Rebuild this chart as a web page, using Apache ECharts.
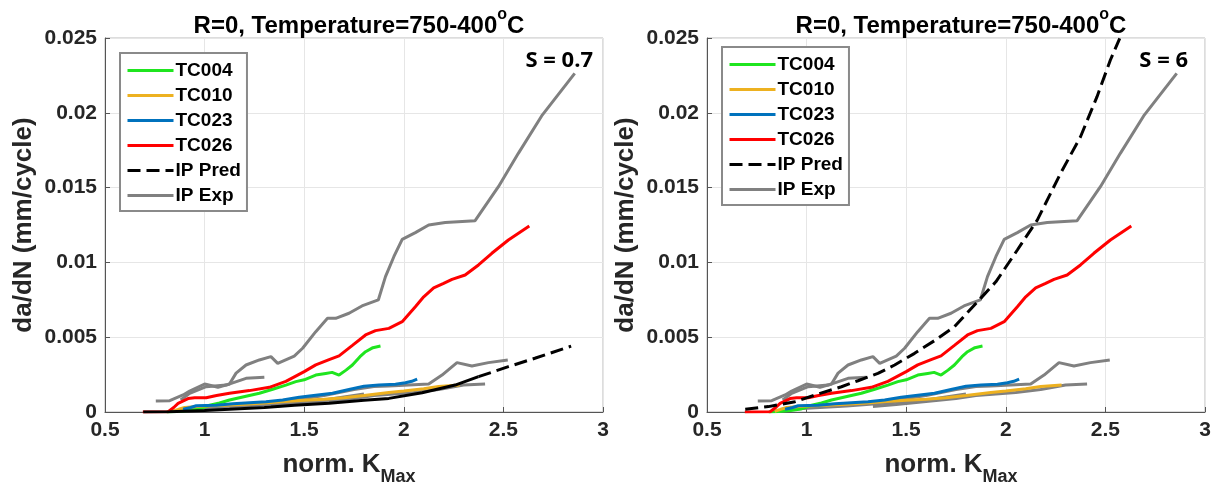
<!DOCTYPE html>
<html>
<head>
<meta charset="utf-8">
<script src="https://cdn.jsdelivr.net/npm/echarts@6/dist/echarts.min.js"></script>
<style>
html, body { margin: 0; padding: 0; background: #fff; }
#chart { width: 1220px; height: 490px; }
</style>
</head>
<body>
<div id="chart"></div>
<script>
// values: [norm. Kmax, da/dN (mm/cycle)]
const xTicks = [0.5, 1, 1.5, 2, 2.5, 3];
const yTicks = [0, 0.005, 0.01, 0.015, 0.02, 0.025];
const legendNames = ['TC004', 'TC010', 'TC023', 'TC026', 'IP Pred', 'IP Exp'];
const panelNotes = ['S = 0.7', 'S = 6'];

const tc004 = [[0.81, 0], [0.86, 0.00003], [0.92, 0.0001], [0.97, 0.0002], [1.025, 0.00045], [1.075, 0.0006],
  [1.125, 0.0008], [1.208, 0.00105], [1.275, 0.00125], [1.342, 0.00152], [1.408, 0.0018], [1.458, 0.00203],
  [1.5, 0.00215], [1.558, 0.00247], [1.608, 0.00258], [1.64, 0.00265], [1.675, 0.00247], [1.71, 0.0028],
  [1.742, 0.00314], [1.78, 0.0037], [1.808, 0.00403], [1.845, 0.0043], [1.883, 0.00441]];

const tc010 = [[0.84, 0.00005], [0.87, 0.00018], [0.9, 0.0003], [1.0, 0.0004], [1.1, 0.00045], [1.2, 0.00052],
  [1.3, 0.0006], [1.4, 0.0007], [1.5, 0.00078], [1.6, 0.00085], [1.7, 0.00095], [1.8, 0.0011],
  [1.925, 0.0013], [2.0, 0.0014], [2.1, 0.00155], [2.175, 0.0017], [2.28, 0.0018]];

const tc023 = [[0.892, 0.00018], [0.93, 0.0003], [0.958, 0.00042], [1.058, 0.00045], [1.142, 0.00055],
  [1.225, 0.00062], [1.308, 0.00069], [1.392, 0.0008], [1.475, 0.00098], [1.558, 0.00112], [1.642, 0.00125],
  [1.725, 0.0015], [1.8, 0.00172], [1.875, 0.0018], [1.958, 0.00185], [2.008, 0.00195], [2.04, 0.00205],
  [2.067, 0.0022]];

const tc026 = [[0.69, 0], [0.817, 0.00002], [0.845, 0.0003], [0.867, 0.00058], [0.917, 0.0009], [0.95, 0.00095],
  [1.008, 0.00095], [1.06, 0.0011], [1.125, 0.00125], [1.225, 0.00143], [1.325, 0.00165], [1.408, 0.00205],
  [1.5, 0.0027], [1.558, 0.00315], [1.625, 0.0035], [1.675, 0.00375], [1.742, 0.00445], [1.808, 0.00515],
  [1.858, 0.00544], [1.925, 0.00559], [1.992, 0.00604], [2.058, 0.00704], [2.1, 0.0077], [2.15, 0.0083],
  [2.2, 0.0086], [2.242, 0.00887], [2.308, 0.00916], [2.375, 0.00983], [2.442, 0.01061], [2.525, 0.0115],
  [2.63, 0.01243]];

const ipExp1 = [[0.755, 0.00074], [0.825, 0.00076], [0.892, 0.00114], [0.925, 0.0014], [1.0, 0.00187],
  [1.067, 0.00165], [1.125, 0.00187], [1.158, 0.0026], [1.208, 0.00314], [1.275, 0.00348], [1.333, 0.0037],
  [1.367, 0.00325], [1.45, 0.00374], [1.492, 0.00426], [1.558, 0.00537], [1.617, 0.00626], [1.658, 0.00626],
  [1.725, 0.0066], [1.79, 0.00709], [1.872, 0.00749], [1.908, 0.00905], [1.95, 0.01038], [1.992, 0.01154],
  [2.058, 0.01199], [2.125, 0.0125], [2.208, 0.01266], [2.358, 0.01279], [2.475, 0.01506], [2.575, 0.01729],
  [2.692, 0.01979], [2.858, 0.02264]];
const ipExp2 = [[0.88, 0.0008], [0.925, 0.00125], [1.008, 0.00169], [1.108, 0.0018], [1.208, 0.00225], [1.3, 0.00232]];
const ipExp3 = [[0.9, 0.0002], [1.0, 0.0003], [1.2, 0.00045], [1.4, 0.0007], [1.6, 0.0011], [1.75, 0.0015],
  [1.85, 0.0017], [1.925, 0.00174], [2.125, 0.00187], [2.192, 0.00247], [2.267, 0.0033], [2.342, 0.00307],
  [2.425, 0.0033], [2.522, 0.00348]];
const ipExp4 = [[1.333, 0.00036], [1.45, 0.0005], [1.6, 0.0007], [1.75, 0.0009], [1.85, 0.0011], [1.95, 0.0012],
  [2.05, 0.0013], [2.175, 0.0015], [2.3, 0.0018], [2.408, 0.00187]];
const ipExp5 = [[0.85, 0.0001], [1.0, 0.00025], [1.2, 0.0004], [1.4, 0.0006], [1.6, 0.0008], [1.8, 0.0012]];

// S = 0.7 prediction: the dense part looks solid in the figure, the tail is dashed
const ipPredS07Low = [[0.692, 0], [0.825, 0.00002], [1.0, 0.0001], [1.125, 0.00018], [1.3, 0.0003], [1.45, 0.00045],
  [1.625, 0.00058], [1.8, 0.00078], [1.925, 0.00091], [2.092, 0.00129], [2.258, 0.0018], [2.375, 0.00236]];
const ipPredS07Tail = [[2.375, 0.00236], [2.525, 0.00303], [2.658, 0.00359], [2.808, 0.00426], [2.84, 0.0044]];
const ipPredS6 = [[0.692, 0.00018], [0.808, 0.00036], [0.942, 0.00069], [1.058, 0.0012], [1.175, 0.00169],
  [1.258, 0.00209], [1.358, 0.00258], [1.442, 0.00314], [1.542, 0.00392], [1.642, 0.00477], [1.742, 0.0057],
  [1.858, 0.00737], [1.95, 0.0087], [2.058, 0.01083], [2.158, 0.01283], [2.275, 0.01595], [2.375, 0.0184],
  [2.458, 0.02108], [2.525, 0.02353], [2.572, 0.02498]];

const FONT = 'Liberation Sans';
const colors = { TC004: '#1fe51f', TC010: '#edb120', TC023: '#0072bd', TC026: '#ff0000', pred: '#000000', exp: '#808080' };

function line(name, data, color, idx, dashed) {
  return {
    name: name,
    type: 'line',
    data: data,
    xAxisIndex: idx,
    yAxisIndex: idx,
    symbol: 'none',
    silent: true,
    lineStyle: { color: color, width: 3, type: dashed ? [13, 6] : 'solid' },
    itemStyle: { color: color }
  };
}

function panelSeries(idx, predParts) {
  const grays = [ipExp1, ipExp2, ipExp3, ipExp4, ipExp5].map(d => line('IP Exp', d, colors.exp, idx));
  const preds = predParts.map(p => line('IP Pred', p.data, colors.pred, idx, p.dashed));
  return grays.concat([
    line('TC004', tc004, colors.TC004, idx),
    line('TC010', tc010, colors.TC010, idx),
    line('TC023', tc023, colors.TC023, idx),
    line('TC026', tc026, colors.TC026, idx)
  ], preds);
}

function xAxis(idx) {
  return {
    type: 'value', gridIndex: idx,
    min: xTicks[0], max: xTicks[xTicks.length - 1], interval: xTicks[1] - xTicks[0],
    name: 'norm. K{sub|Max}', nameLocation: 'middle', nameGap: 32,
    nameTextStyle: {
      fontFamily: FONT, fontWeight: 'bold', fontSize: 26, color: '#262626', padding: [0, 10, 0, 0],
      rich: { sub: { fontFamily: FONT, fontWeight: 'bold', fontSize: 18, color: '#262626', verticalAlign: 'bottom', lineHeight: 42 } }
    },
    axisLine: { lineStyle: { color: '#555', width: 1 } },
    axisTick: { inside: true, length: 5, lineStyle: { color: '#555' } },
    axisLabel: { fontFamily: FONT, fontWeight: 'bold', fontSize: 21, color: '#262626', margin: 8 },
    splitLine: { lineStyle: { color: '#e6e6e6', width: 1 } }
  };
}

function yAxis(idx) {
  return {
    type: 'value', gridIndex: idx,
    min: yTicks[0], max: yTicks[yTicks.length - 1], interval: yTicks[1] - yTicks[0],
    name: 'da/dN (mm/cycle)', nameLocation: 'middle', nameGap: 68,
    nameTextStyle: { fontFamily: FONT, fontWeight: 'bold', fontSize: 26, color: '#262626' },
    axisLine: { show: true, lineStyle: { color: '#555', width: 1 } },
    axisTick: { show: true, inside: true, length: 5, lineStyle: { color: '#555' } },
    axisLabel: { fontFamily: FONT, fontWeight: 'bold', fontSize: 21, color: '#262626', margin: 8 },
    splitLine: { lineStyle: { color: '#e6e6e6', width: 1 } }
  };
}

function legend(left, top) {
  return {
    data: legendNames, orient: 'vertical', left: left, top: top,
    selectedMode: false,
    itemWidth: 46, itemHeight: 14, itemGap: 6,
    padding: [8, 6, 6, 6],
    itemStyle: { opacity: 0 },
    lineStyle: { width: 3 },
    backgroundColor: '#fff', borderColor: '#8a8a8a', borderWidth: 2,
    textStyle: { fontFamily: FONT, fontWeight: 'bold', fontSize: 19, color: '#000', padding: [0, 0, 0, -3] }
  };
}

function title(center, text) {
  return {
    text: text, left: center, top: 2, textAlign: 'center',
    textStyle: {
      fontFamily: FONT, fontWeight: 'bold', fontSize: 24, color: '#000',
      rich: {
        m: { fontFamily: FONT, fontWeight: 'bold', fontSize: 24, color: '#000' },
        sup: { fontFamily: FONT, fontWeight: 'bold', fontSize: 16, color: '#000', verticalAlign: 'top', lineHeight: 38 }
      }
    }
  };
}

function note(right, text) {
  return {
    text: text, left: right, top: 45, textAlign: 'right',
    textStyle: { fontFamily: 'Open Sans', fontWeight: 'bold', fontSize: 22, color: '#000' }
  };
}

const chart = echarts.init(document.getElementById('chart'), null, { renderer: 'canvas' });
chart.setOption({
  animation: false,
  backgroundColor: '#fff',
  title: [
    title(354, '{m|R=0, Temperature=750-400}{sup|o}{m|C}'),
    title(956, '{m|R=0, Temperature=750-400}{sup|o}{m|C}'),
    note(588, panelNotes[0]),
    note(1183, panelNotes[1])
  ],
  legend: [legend(120, 53), legend(722, 47)],
  grid: [
    { left: 105, right: 617, top: 38, bottom: 78, outerBoundsMode: 'none', show: true, borderColor: '#bbb', borderWidth: 1 },
    { left: 707, right: 15, top: 38, bottom: 78, outerBoundsMode: 'none', show: true, borderColor: '#bbb', borderWidth: 1 }
  ],
  xAxis: [xAxis(0), xAxis(1)],
  yAxis: [yAxis(0), yAxis(1)],
  series: panelSeries(0, [{ data: ipPredS07Tail, dashed: true }, { data: ipPredS07Low, dashed: false }])
    .concat(panelSeries(1, [{ data: ipPredS6, dashed: true }]))
});
</script>
</body>
</html>
